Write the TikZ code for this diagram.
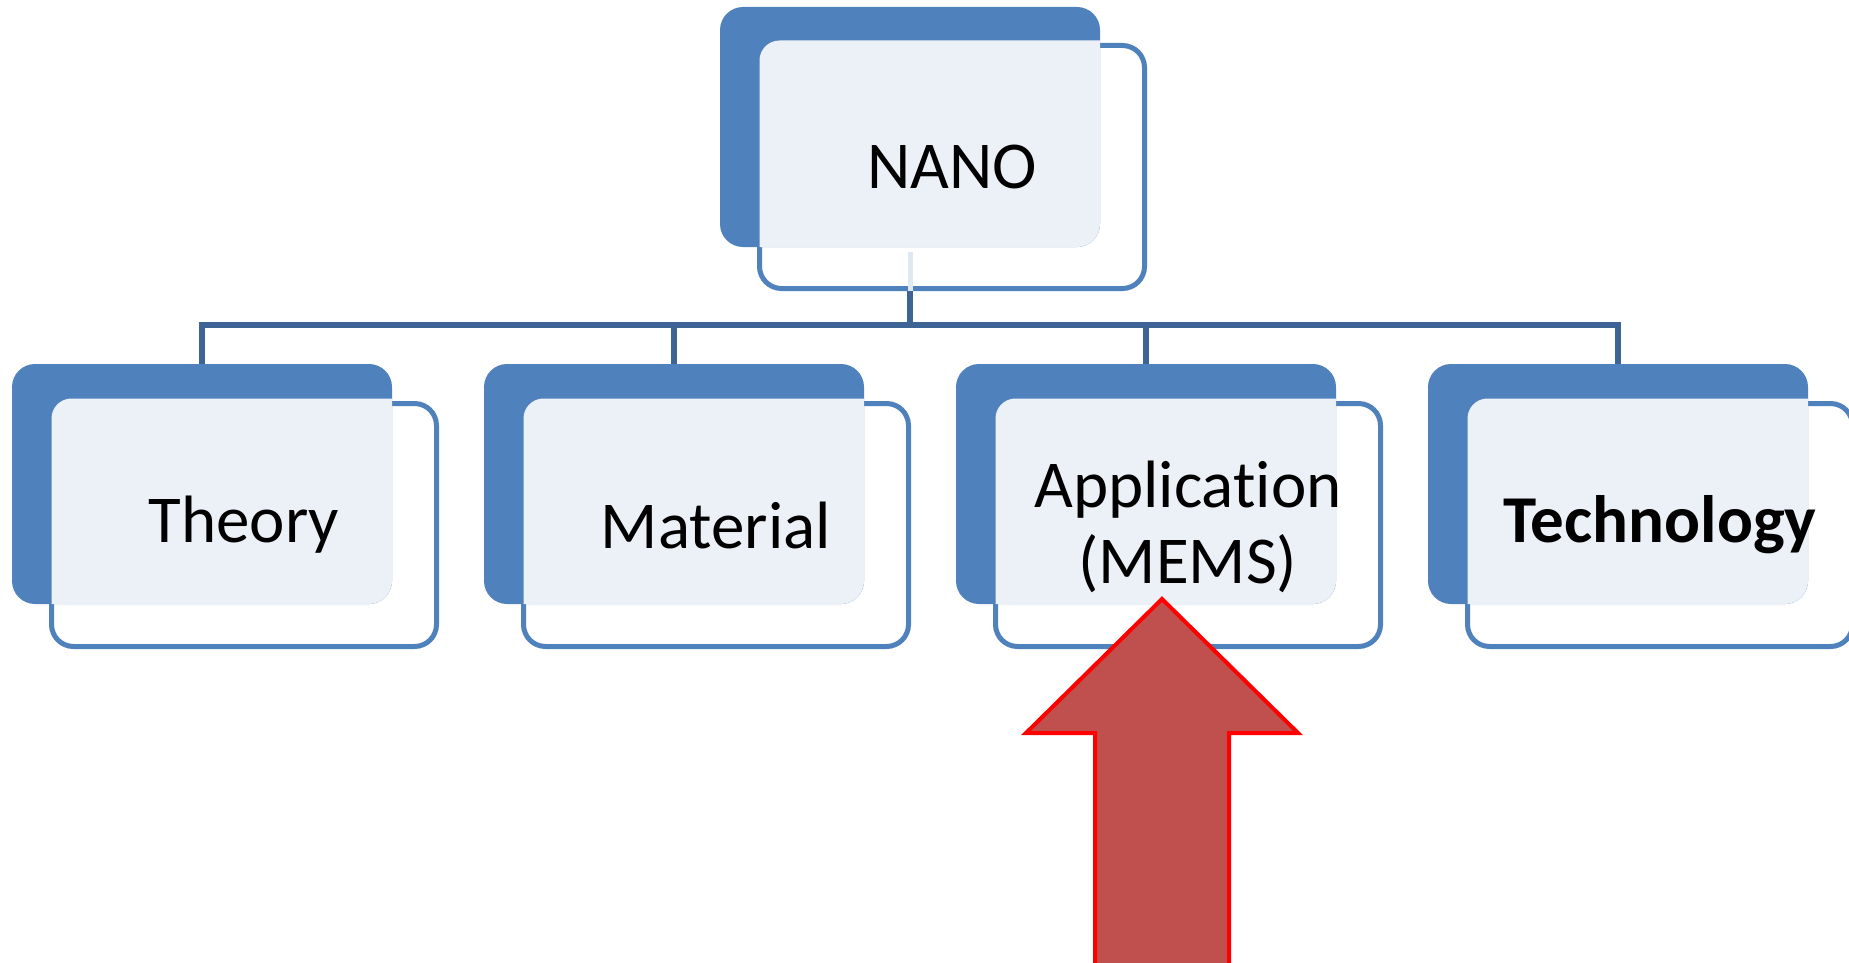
\documentclass[tikz,border=0pt]{standalone}
\usepackage{fontspec}
\setmainfont{Carlito}[Ligatures=NoCommon]
\definecolor{dkblue}{RGB}{79,129,189}
\definecolor{ltfill}{RGB}{236,241,248}
\definecolor{connc}{RGB}{62,100,150}
\definecolor{faintc}{RGB}{224,232,242}
\definecolor{arrowfill}{RGB}{192,80,77}
\definecolor{arrowline}{RGB}{255,0,0}
\begin{document}
\begin{tikzpicture}[x=1pt,y=-1pt,
  frontbox/.style={draw=dkblue, line width=5pt, fill=white, rounded corners=22pt,
    minimum width=385pt, minimum height=243pt, inner sep=0pt},
  darkbox/.style={fill=dkblue, rounded corners=23pt, minimum width=380pt,
    minimum height=240pt, inner sep=0pt, outer sep=0pt},
  lightpart/.style={fill=ltfill, rounded corners=20pt},
  lbl/.style={font=\fontsize{67}{76}\selectfont, align=center, text=black, inner sep=0pt},
  conn/.style={draw=connc, line width=5.5pt},
  faintline/.style={draw=faintc, line width=5pt},
  bigarrow/.style={fill=arrowfill, draw=arrowline, line width=4pt, line join=miter}]
\useasboundingbox (0,0) rectangle (1849,963);
\clip (0,0) rectangle (1849,963);

% top box
\node[frontbox] (nano-F) at (952,167) {};
\node[darkbox] (nano-D) at (910,127) {};
\begin{scope}
  \clip[rounded corners=23pt] (nano-D.south west) rectangle (nano-D.north east);
  \fill[lightpart] ([shift={(2.5pt,-2.5pt)}]nano-F.south west) rectangle ([shift={(-2.5pt,2.5pt)}]nano-F.north east);
\end{scope}
\draw[faintline] ([yshift=-5pt]nano-D.south) -- (nano-F.south -| nano-D.south);
\node[lbl] (nano-T) at (nano-F) {NANO};

% child boxes
\foreach \n/\x in {theory/12, material/484, app/956, tech/1428} {
  \node[frontbox] (\n-F) at (\x+232,525) {};
  \node[darkbox] (\n-D) at (\x+190,484) {};
  \begin{scope}
    \clip[rounded corners=23pt] (\n-D.south west) rectangle (\n-D.north east);
    \fill[lightpart] ([shift={(2.5pt,-2.5pt)}]\n-F.south west) rectangle ([shift={(-2.5pt,2.5pt)}]\n-F.north east);
  \end{scope}
}
\node[lbl] (theory-T) at (theory-F) {Theory};
\node[lbl] (material-T) at (material-F) {Material};
\node[lbl] (app-T) at ([yshift=-2pt]app-F.center) {Application\\(MEMS)};
\node[lbl, font=\fontsize{67}{76}\selectfont\bfseries] (tech-T) at (tech-F) {Technology};

% connectors
\coordinate (bus) at (910,325);
\draw[conn] (nano-F.south -| nano-D.south) -- (nano-D.south |- bus);
\draw[conn] (theory-D.north) -- (theory-D.north |- bus) -- (tech-D.north |- bus) -- (tech-D.north);
\draw[conn] (material-D.north |- bus) -- (material-D.north);
\draw[conn] (app-D.north |- bus) -- (app-D.north);

% big arrow
\coordinate (tip) at (1162,599);
\draw[bigarrow] (1095,975) -- (1095,733) -- (1026,733) -- (tip) -- (1298,733) -- (1229,733) -- (1229,975) -- cycle;
\end{tikzpicture}
\end{document}
